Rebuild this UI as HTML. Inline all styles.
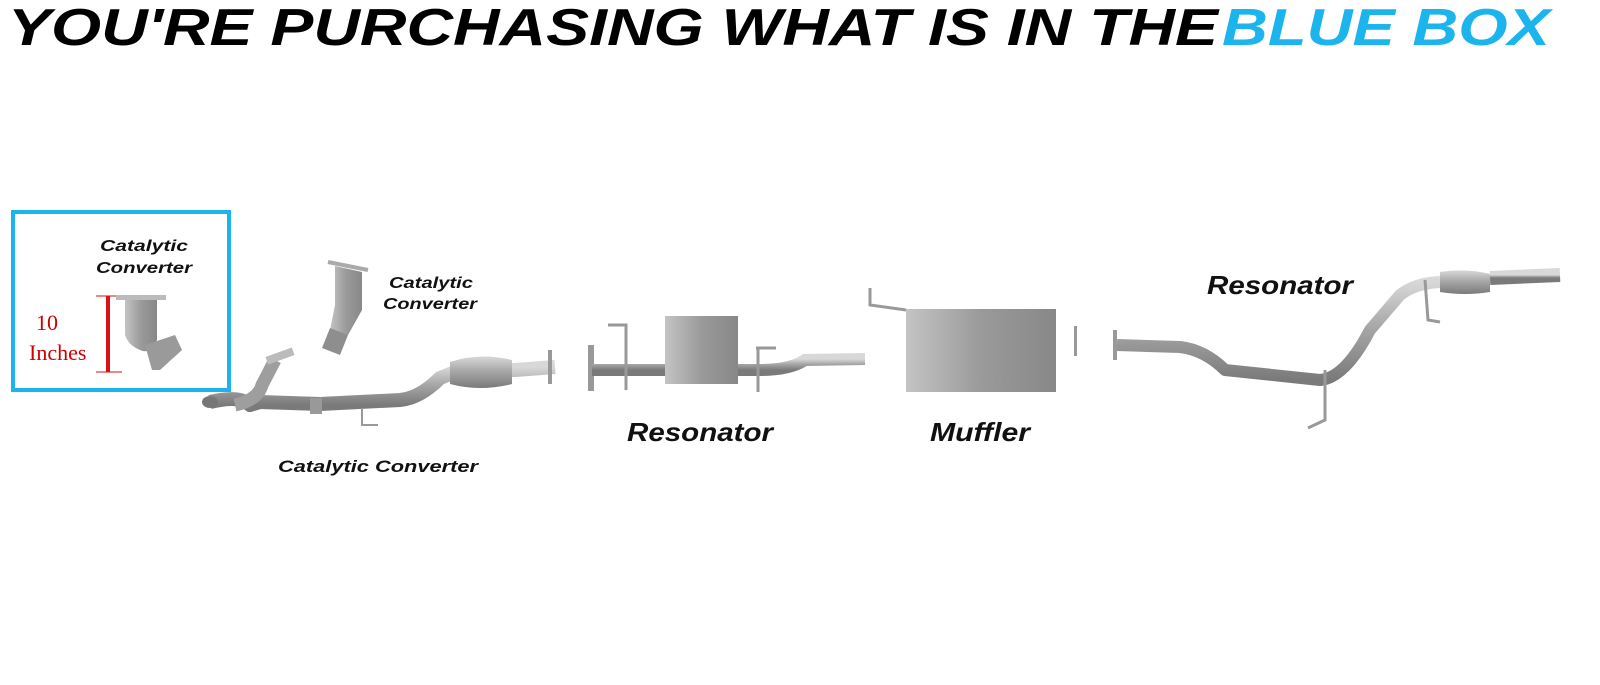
<!DOCTYPE html>
<html><head><meta charset="utf-8"><style>
html,body{margin:0;padding:0;background:#fff;}
svg{display:block;}
.lbl{font-family:"Liberation Sans",sans-serif;font-weight:bold;font-style:italic;fill:#111;}
</style></head><body>
<svg width="1600" height="685" viewBox="0 0 1600 685" xmlns="http://www.w3.org/2000/svg">
<defs>
<linearGradient id="pg" x1="0" y1="0" x2="0" y2="1">
<stop offset="0" stop-color="#d8d8d8"/><stop offset="0.45" stop-color="#a8a8a8"/><stop offset="1" stop-color="#7a7a7a"/>
</linearGradient>
<linearGradient id="bg" x1="0" y1="0" x2="1" y2="0">
<stop offset="0" stop-color="#c4c4c4"/><stop offset="0.5" stop-color="#9a9a9a"/><stop offset="1" stop-color="#888"/>
</linearGradient>
</defs>
<!-- title -->
<text x="8" y="45" textLength="1210" lengthAdjust="spacingAndGlyphs" font-family="Liberation Sans,sans-serif" font-weight="bold" font-style="italic" font-size="52" fill="#000">YOU'RE PURCHASING WHAT IS IN THE</text>
<text x="1222" y="45" textLength="328" lengthAdjust="spacingAndGlyphs" font-family="Liberation Sans,sans-serif" font-weight="bold" font-style="italic" font-size="52" fill="#1cb4ec">BLUE BOX</text>

<!-- blue box -->
<rect x="13" y="212" width="216" height="178" fill="none" stroke="#1cb4ec" stroke-width="4"/>
<text class="lbl" x="100" y="251" font-size="16" textLength="88" lengthAdjust="spacingAndGlyphs">Catalytic</text>
<text class="lbl" x="96" y="273" font-size="16" textLength="96" lengthAdjust="spacingAndGlyphs">Converter</text>
<line x1="108" y1="296" x2="108" y2="372" stroke="#d11" stroke-width="4"/>
<line x1="96" y1="296" x2="122" y2="296" stroke="#d11" stroke-width="1"/>
<line x1="96" y1="372" x2="122" y2="372" stroke="#d11" stroke-width="1"/>
<text x="36" y="330" font-family="Liberation Serif,serif" font-size="22" fill="#c00">10</text>
<text x="29" y="360" font-family="Liberation Serif,serif" font-size="22" fill="#c00">Inches</text>
<!-- cat in box -->
<rect x="116" y="295" width="50" height="5" fill="#bbb"/>
<path d="M125 300 L157 300 L157 340 Q150 355 140 350 Q128 345 125 335 Z" fill="url(#bg)"/>
<path d="M145 345 L175 335 L182 350 L160 370 L152 370 Z" fill="#9a9a9a"/>

<!-- upper cat -->
<line x1="328" y1="262" x2="368" y2="270" stroke="#aaa" stroke-width="4"/>
<path d="M335 266 L362 272 L362 310 L348 335 L330 330 L335 305 Z" fill="url(#bg)"/>
<path d="M330 328 L348 335 L340 355 L322 348 Z" fill="#8e8e8e"/>
<text class="lbl" x="389" y="288" font-size="16" textLength="84" lengthAdjust="spacingAndGlyphs">Catalytic</text>
<text class="lbl" x="383" y="309" font-size="16" textLength="94" lengthAdjust="spacingAndGlyphs">Converter</text>

<!-- front pipe -->
<path d="M210 402 Q240 395 250 405 L260 402 L320 404 L400 400 Q420 398 440 378 L460 370 L515 370 L555 367" fill="none" stroke="url(#pg)" stroke-width="14" stroke-linejoin="round"/>
<path d="M235 405 Q258 400 262 385 L275 360" fill="none" stroke="#9e9e9e" stroke-width="13"/>
<rect x="266" y="352" width="28" height="8" fill="#bbb" transform="rotate(-20 280 356)"/>
<ellipse cx="210" cy="402" rx="8" ry="6" fill="#777"/>
<path d="M450 362 Q480 352 512 360 L512 384 Q480 392 450 384 Z" fill="url(#pg)"/>
<rect x="548" y="350" width="4" height="34" fill="#999"/>
<rect x="310" y="398" width="12" height="16" fill="#999"/>
<path d="M362 408 L362 425 L378 425" fill="none" stroke="#999" stroke-width="2"/>
<text class="lbl" x="278" y="472" font-size="17" textLength="200" lengthAdjust="spacingAndGlyphs">Catalytic Converter</text>

<!-- resonator section -->
<rect x="588" y="345" width="6" height="46" fill="#999"/>
<path d="M592 370 L760 370 Q790 370 805 360 L865 359" fill="none" stroke="url(#pg)" stroke-width="12"/>
<path d="M608 325 L626 325 L626 390" fill="none" stroke="#999" stroke-width="3"/>
<rect x="665" y="316" width="73" height="68" fill="url(#bg)"/>
<path d="M756 348 L776 348 M758 348 L758 392" fill="none" stroke="#999" stroke-width="3"/>
<text class="lbl" x="627" y="441" font-size="26" textLength="146" lengthAdjust="spacingAndGlyphs">Resonator</text>

<!-- muffler -->
<path d="M890 370 L912 370" stroke="url(#pg)" stroke-width="12"/>
<path d="M870 288 L870 305 L906 310" fill="none" stroke="#999" stroke-width="3"/>
<rect x="906" y="309" width="150" height="83" fill="url(#bg)"/>
<path d="M1056 340 L1086 340" stroke="url(#pg)" stroke-width="12"/>
<rect x="1074" y="326" width="3" height="30" fill="#999"/>
<text class="lbl" x="930" y="441" font-size="26" textLength="100" lengthAdjust="spacingAndGlyphs">Muffler</text>

<!-- rear -->
<rect x="1113" y="330" width="4" height="30" fill="#999"/>
<path d="M1117 345 L1180 347 Q1205 350 1225 370 L1320 380 Q1345 378 1370 330 L1400 295 Q1415 283 1440 282" fill="none" stroke="url(#pg)" stroke-width="12" stroke-linejoin="round"/>
<path d="M1440 272 Q1465 268 1490 274 L1490 292 Q1465 296 1440 292 Z" fill="url(#pg)"/>
<path d="M1490 278 L1560 275" stroke="url(#pg)" stroke-width="14"/>
<path d="M1325 370 L1325 420 L1308 428" fill="none" stroke="#999" stroke-width="3"/>
<path d="M1425 280 L1428 320 L1440 322" fill="none" stroke="#999" stroke-width="3"/>
<text class="lbl" x="1207" y="294" font-size="26" textLength="146" lengthAdjust="spacingAndGlyphs">Resonator</text>
</svg>
</body></html>
